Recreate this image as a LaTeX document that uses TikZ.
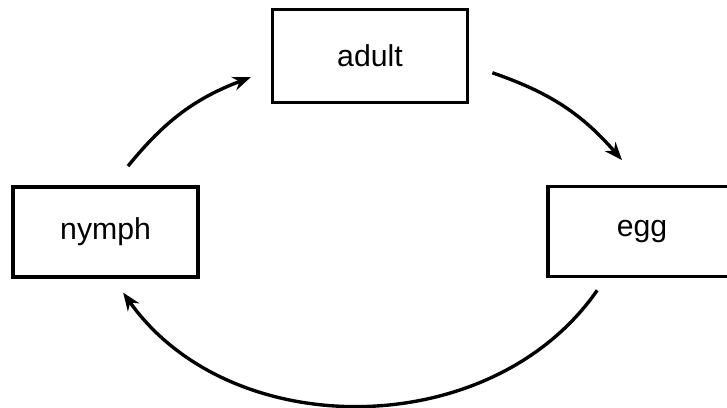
\documentclass[tikz,border=0pt]{standalone}
\usepackage{fontspec}
\setmainfont{Liberation Sans}
\usetikzlibrary{arrows.meta}

\begin{document}
\begin{tikzpicture}[
   stage/.style={draw,line width=2.4pt,minimum width=4.7cm,minimum height=2.25cm,
      font=\fontsize{21.5}{26}\selectfont},
   lifearrow/.style={line width=2.4pt,-{Stealth[length=0.45cm,width=0.35cm]}}]
         \useasboundingbox (0,0) rectangle (18.175,10.2) ;
         % the three stages
         \node[stage,minimum width=4.875cm,minimum height=2.325cm] (adult) at (9.25,8.8) {adult} ;
         \node[stage,minimum width=4.625cm] (nymph) at (2.64,4.4) {nymph} ;
         \node[stage] (egg) at (16.05,4.41) {egg} ;
         % the cycle
         \draw[lifearrow] ([shift={(0.56,0.48)}]nymph.north) to[bend left=15]
            ([shift={(-0.5,-0.53)}]adult.west) ;
         \draw[lifearrow] ([shift={(0.58,-0.42)}]adult.east) to[bend left=15]
            ([shift={(-0.5,0.62)}]egg.north) ;
         \draw[lifearrow] ([shift={(-1.12,-0.3)}]egg.south) to[bend left=55]
            ([shift={(0.44,-0.35)}]nymph.south) ;
\end{tikzpicture}
\end{document}
